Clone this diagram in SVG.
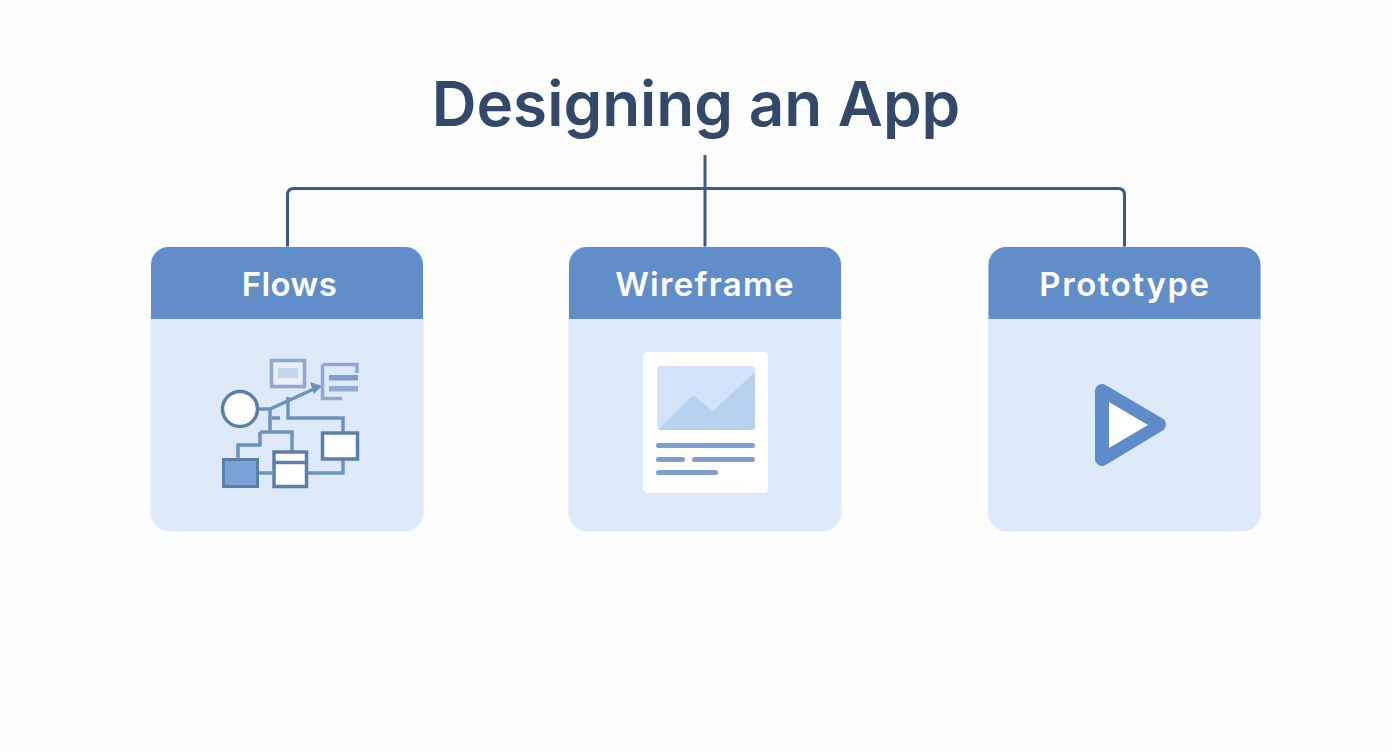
<svg xmlns="http://www.w3.org/2000/svg" width="1392" height="752" viewBox="0 0 1392 752">
<style>
text{font-family:Inter,"Open Sans","Liberation Sans",sans-serif;text-anchor:middle}
.title{font-size:62px;font-weight:600;fill:#34496a}
.head{font-size:33px;font-weight:600;fill:#fff;letter-spacing:1.3px}
.body{fill:#deeafa;stroke:#e1ecfa;stroke-width:1}
.bar{fill:#618dc8}
.conn{fill:none;stroke:#3c5a85;stroke-width:3}
.fl{fill:none;stroke:#6a94be;stroke-width:3.500}
.box{fill:#fff;stroke:#5b80a8;stroke-width:3.500}
.soft{fill:none;stroke:#8ea8d2;stroke-width:3.500}
.ln{fill:#7f9dce}
</style>
<rect width="1392" height="752" fill="#fefefe"/>
<g id="title"><text class="title" x="696" y="126">Designing an App</text></g>
<g id="connectors">
<path class="conn" d="M705 155V247"/>
<path class="conn" d="M287.500 247V195Q287.500 188.500 294 188.500H1118Q1124.500 188.500 1124.500 195V247"/>
</g>
<g id="flows">
<rect class="body" x="151" y="247" width="272" height="284" rx="18"/>
<path class="bar" d="M151 319V265a18 18 0 0 1 18-18H405a18 18 0 0 1 18 18V319Z"/>
<text class="head" x="289.500" y="296" style="letter-spacing:.4px">Flows</text>
<path class="fl" d="M258 409H270L316 388M270 409V432M260 432H292V451M260 432V445H238V458M288 397V418H343V432M343 459V473H308M258 473H272M272 418H280"/>
<path d="M310 382L322 386L314 394Z" fill="#6a94be"/>
<rect class="soft" x="271.500" y="360.500" width="33" height="26" style="fill:#e8f0fb"/>
<rect x="278" y="368" width="20" height="10" fill="#c5d6ea"/>
<path class="soft" d="M322.500 364.500H357V373M322.500 364.500V398.500H342"/>
<rect x="329" y="375" width="29" height="5.500" fill="#7f9ecb"/>
<rect x="329" y="386" width="29" height="5.500" fill="#8fabd6"/>
<circle cx="240" cy="409" r="17.500" fill="#fff" stroke="#5b7fa5" stroke-width="3.500"/>
<rect class="box" x="322.500" y="433" width="35" height="26"/>
<rect x="223.500" y="459.500" width="34" height="27" fill="#7ba1d6" stroke="#5b80a8" stroke-width="3"/>
<rect class="box" x="274" y="452" width="32.500" height="34.500"/>
<path d="M274 462.500H306" stroke="#5b80a8" stroke-width="3.500"/>
</g>
<g id="wireframe">
<rect class="body" x="569" y="247" width="272" height="284" rx="18"/>
<path class="bar" d="M569 319V265a18 18 0 0 1 18-18H823a18 18 0 0 1 18 18V319Z"/>
<text class="head" x="705" y="296">Wireframe</text>
<rect x="643" y="352" width="125" height="141" rx="5" fill="#fff"/>
<rect x="657" y="366" width="98" height="64" rx="4" fill="#d2e3fa"/>
<path d="M658 430L693 395L713 411L755 372V426a4 4 0 0 1-4 4Z" fill="#b8d1f0"/>
<rect class="ln" x="656" y="443" width="99" height="5" rx="2.500"/>
<rect class="ln" x="656" y="457" width="29" height="5" rx="2.500"/>
<rect class="ln" x="692" y="457" width="63" height="5" rx="2.500"/>
<rect class="ln" x="656" y="470" width="62" height="5" rx="2.500"/>
</g>
<g id="prototype">
<rect class="body" x="988.500" y="247" width="272" height="284" rx="18"/>
<path class="bar" d="M988.500 319V265a18 18 0 0 1 18-18H1242.500a18 18 0 0 1 18 18V319Z"/>
<text class="head" x="1125" y="296" style="letter-spacing:1.600px">Prototype</text>
<path d="M1102 391L1159 424.500L1102 459Z" fill="#5e8bc9" stroke="#5e8bc9" stroke-width="14" stroke-linejoin="round"/>
<path d="M1109 402L1148 425L1109 448Z" fill="#fff"/>
</g>
</svg>
